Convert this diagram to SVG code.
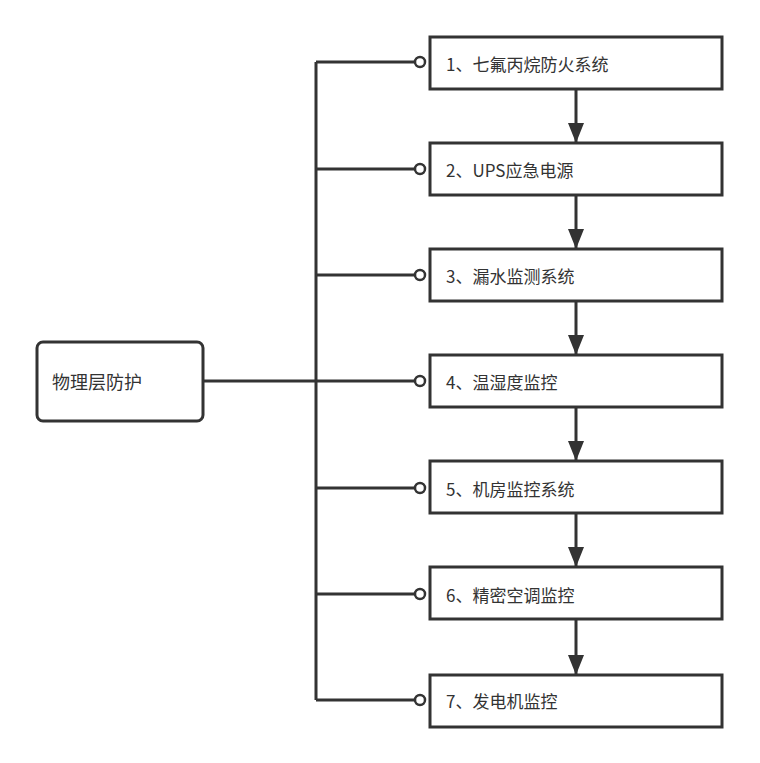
<svg xmlns="http://www.w3.org/2000/svg" width="760" height="763" viewBox="0 0 760 763">
<style>
.b{fill:#fff;stroke:#333;stroke-width:3}
.t{font-family:"Noto Sans CJK SC","Noto Sans",sans-serif;font-size:17px;fill:#333;dominant-baseline:central}
.l{fill:none;stroke:#333;stroke-width:3}
.c{fill:#fff;stroke:#333;stroke-width:2.5}
</style>
<defs><marker id="a" markerWidth="20" markerHeight="16" refX="20" refY="8" orient="auto" markerUnits="userSpaceOnUse"><path d="M0,0 L20,8 L0,16 Z" fill="#333"/></marker></defs>
<g id="connectors">
<path class="l" d="M203,381 H415 M316,62 V700 M316,62 H415 M316,169 H415 M316,275 H415 M316,488 H415 M316,594 H415 M316,700 H415"/>
<circle class="c" cx="420" cy="62" r="5"/><circle class="c" cx="420" cy="169" r="5"/><circle class="c" cx="420" cy="275" r="5"/><circle class="c" cx="420" cy="381" r="5"/><circle class="c" cx="420" cy="488" r="5"/><circle class="c" cx="420" cy="594" r="5"/><circle class="c" cx="420" cy="700" r="5"/>
<path class="l" marker-end="url(#a)" d="M576,89 V143"/>
<path class="l" marker-end="url(#a)" d="M576,195 V249"/>
<path class="l" marker-end="url(#a)" d="M576,301 V355"/>
<path class="l" marker-end="url(#a)" d="M576,407 V461"/>
<path class="l" marker-end="url(#a)" d="M576,513 V567"/>
<path class="l" marker-end="url(#a)" d="M576,619 V675"/>
</g>
<g id="root"><rect class="b" x="37" y="342" width="166" height="79" rx="6"/><text class="t" x="52" y="381" style="font-size:18px">物理层防护</text></g>
<g id="n1"><rect class="b" x="430" y="37" width="292" height="52"/><text class="t" x="446" y="63">1、七氟丙烷防火系统</text></g>
<g id="n2"><rect class="b" x="430" y="143" width="292" height="52"/><text class="t" x="446" y="169">2、UPS应急电源</text></g>
<g id="n3"><rect class="b" x="430" y="249" width="292" height="52"/><text class="t" x="446" y="275">3、漏水监测系统</text></g>
<g id="n4"><rect class="b" x="430" y="355" width="292" height="52"/><text class="t" x="446" y="381">4、温湿度监控</text></g>
<g id="n5"><rect class="b" x="430" y="461" width="292" height="52"/><text class="t" x="446" y="488">5、机房监控系统</text></g>
<g id="n6"><rect class="b" x="430" y="567" width="292" height="52"/><text class="t" x="446" y="594">6、精密空调监控</text></g>
<g id="n7"><rect class="b" x="430" y="675" width="292" height="52"/><text class="t" x="446" y="700">7、发电机监控</text></g>
</svg>
